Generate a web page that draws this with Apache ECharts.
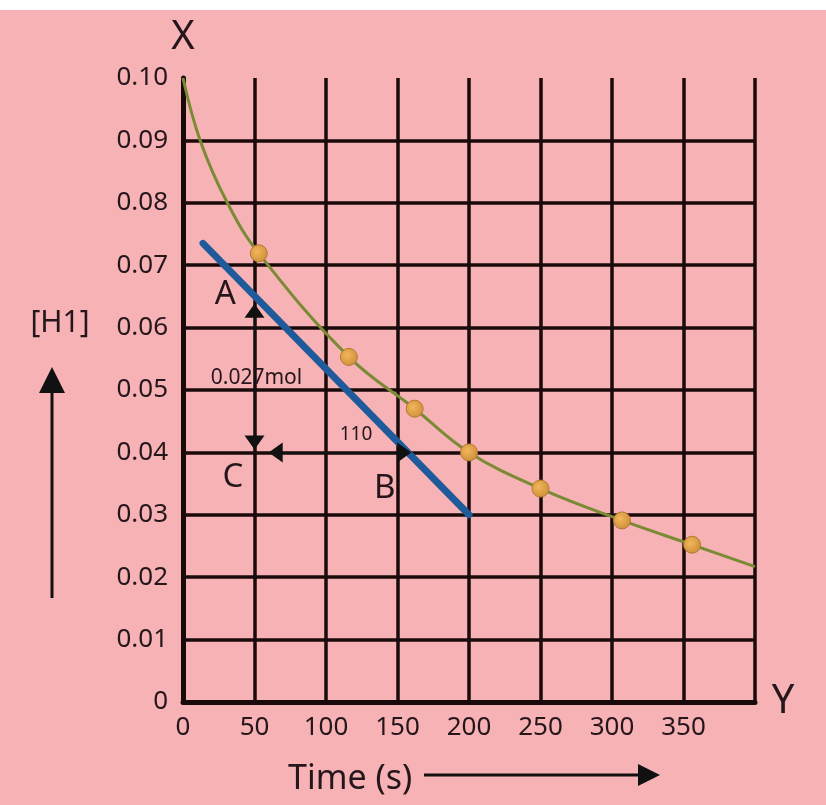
<!DOCTYPE html>
<html>
<head>
<meta charset="utf-8">
<script src="https://cdn.jsdelivr.net/npm/echarts@6/dist/echarts.min.js"></script>
<style>
html,body{margin:0;padding:0;background:#ffffff;}
#c{width:826px;height:805px;}
</style>
</head>
<body>
<div id="c"></div>
<script>
// ---- data ----
const yTickLabels = ['0','0.01','0.02','0.03','0.04','0.05','0.06','0.07','0.08','0.09','0.10'];
const xTickLabels = ['0','50','100','150','200','250','300','350',''];

// measured points (time s, [H1])
const dotX = [53, 116, 162, 200, 250, 307, 356];
const dotY = [0.0719, 0.0553, 0.0470, 0.0400, 0.0342, 0.0291, 0.0252];

// fitted decay curve
const curveX = [0, 12, 31, 53, 116, 162, 200, 250, 307, 356, 400];
const curveY = [0.100, 0.090, 0.080, 0.0719, 0.0553, 0.0470, 0.0400, 0.0342, 0.0291, 0.0252, 0.0217];

// tangent line
const tangentX = [14, 200];
const tangentY = [0.0735, 0.030];

// annotation arrows (start -> end)
const arrowStartX = [50, 64.8];
const arrowStartY = [0.0416, 0.040];
const arrowEndX = [50, 154.7];
const arrowEndY = [0.0627, 0.040];

// annotation texts
const noteText = ['A', 'B', 'C', '0.027mol', '110'];
const noteX = [29.6, 141, 35, 51.4, 121];
const noteY = [0.0653, 0.0342, 0.0359, 0.0520, 0.0428];

// ---- styles ----
const FONT = 'Noto Sans';
const INK = '#24161a';
const GRIDC = '#1a0a0a';
const noteSize = {'A': 33, 'B': 33, 'C': 33, '0.027mol': 21, '110': 19};

const zip = (a, b) => a.map((v, i) => [v, b[i]]);

const chart = echarts.init(document.getElementById('c'), null, {renderer: 'canvas'});

const option = {
  backgroundColor: '#f7b2b6',
  animation: false,
  grid: {left: 183, right: 71, top: 78, bottom: 103},
  xAxis: {
    type: 'value', min: 0, max: 400, interval: 50,
    name: 'Y', nameLocation: 'end', nameGap: 28,
    nameTextStyle: {fontSize: 40, color: INK, fontFamily: FONT, align: 'center', verticalAlign: 'middle', padding: [24, 0, 0, 0]},
    axisLine: {show: true, onZero: false, lineStyle: {color: GRIDC, width: 5}},
    axisTick: {show: false},
    axisLabel: {margin: 13, fontSize: 26, color: INK, fontFamily: FONT,
      formatter: (v, i) => xTickLabels[i] !== undefined ? xTickLabels[i] : ''},
    splitLine: {show: true, lineStyle: {color: GRIDC, width: 3.5}}
  },
  yAxis: {
    type: 'value', min: 0, max: 0.1, interval: 0.01,
    name: 'X', nameLocation: 'end', nameGap: 40,
    nameTextStyle: {fontSize: 40, color: INK, fontFamily: FONT, align: 'center', verticalAlign: 'middle'},
    axisLine: {show: true, onZero: false, lineStyle: {color: GRIDC, width: 5}},
    axisTick: {show: false},
    axisLabel: {margin: 15, fontSize: 26, color: INK, fontFamily: FONT,
      formatter: (v, i) => yTickLabels[i] !== undefined ? yTickLabels[i] : ''},
    splitLine: {show: true, showMaxLine: false,
      lineStyle: {color: [GRIDC, GRIDC, GRIDC, GRIDC, GRIDC, GRIDC, GRIDC, GRIDC, GRIDC, GRIDC, 'rgba(0,0,0,0)'], width: 3.5}}
  },
  series: [
    {
      name: 'curve', type: 'line', data: zip(curveX, curveY), smooth: 0.4,
      showSymbol: false, silent: true, z: 3,
      lineStyle: {color: '#7b8a34', width: 3}
    },
    {
      name: 'tangent', type: 'line', data: zip(tangentX, tangentY),
      showSymbol: false, silent: true, z: 4,
      lineStyle: {color: '#1f5b9b', width: 7, cap: 'round'}
    },
    {
      name: 'points', type: 'scatter', data: zip(dotX, dotY), symbolSize: 17, z: 5,
      itemStyle: {
        opacity: 1,
        color: new echarts.graphic.RadialGradient(0.4, 0.4, 0.7, [
          {offset: 0, color: '#f3b65a'}, {offset: 1, color: '#c98a36'}
        ]),
        borderColor: '#b37a30', borderWidth: 1
      }
    },
    {
      name: 'notes', type: 'scatter', symbolSize: 0, z: 6, silent: true,
      itemStyle: {opacity: 1},
      data: noteText.map((t, i) => ({
        name: t, value: [noteX[i], noteY[i]],
        label: {show: true, position: 'inside', formatter: '{b}', fontSize: noteSize[t], color: INK, opacity: 1, fontFamily: FONT}
      })),
      markLine: {
        silent: true, animation: false,
        symbol: ['triangle', 'triangle'], symbolSize: [20, 14],
        label: {show: false},
        lineStyle: {color: '#111111', width: 2, type: 'solid', opacity: 1},
        itemStyle: {color: '#111111', opacity: 1},
        data: arrowStartX.map((x, i) => [
          {coord: [x, arrowStartY[i]]},
          {coord: [arrowEndX[i], arrowEndY[i]]}
        ])
      }
    }
  ],
  graphic: [
    {type: 'rect', left: 0, top: 0, shape: {width: 826, height: 10}, style: {fill: '#ffffff'}, silent: true},
    {type: 'text', x: 60, y: 323, style: {text: '[H1]', fontSize: 30, fill: INK, fontFamily: FONT, textAlign: 'center', textVerticalAlign: 'middle'}},
    {type: 'line', shape: {x1: 52, y1: 598, x2: 52, y2: 390}, style: {stroke: '#111111', lineWidth: 3}},
    {type: 'polygon', shape: {points: [[52, 367], [39, 393], [65, 393]]}, style: {fill: '#111111'}},
    {type: 'text', x: 288, y: 779, style: {text: 'Time (s)', fontSize: 34, fill: INK, fontFamily: FONT, textAlign: 'left', textVerticalAlign: 'middle'}},
    {type: 'line', shape: {x1: 424, y1: 775, x2: 642, y2: 775}, style: {stroke: '#111111', lineWidth: 3}},
    {type: 'polygon', shape: {points: [[660, 775], [638, 764], [638, 786]]}, style: {fill: '#111111'}}
  ]
};
chart.setOption(option);
</script>
</body>
</html>
